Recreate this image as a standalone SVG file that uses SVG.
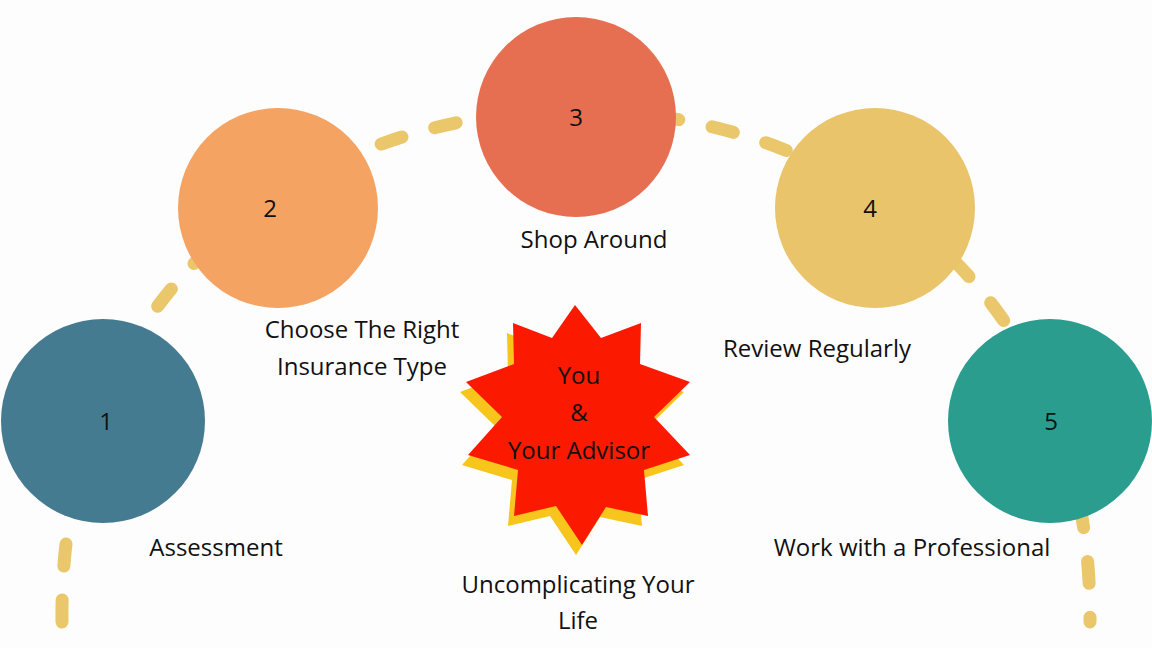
<svg xmlns="http://www.w3.org/2000/svg" width="1152" height="648" viewBox="0 0 1152 648">
<style>
text{font-family:"Open Sans","Liberation Sans",sans-serif;font-size:24px;fill:#111;text-anchor:middle}
.n{font-size:24px}
</style>
<rect width="1152" height="648" fill="#fdfdfd"/>
<g id="connectors">
<path d="M62,622 C55,-60 1095,-60 1090,622" fill="none" stroke="#e9c76a" stroke-width="13" stroke-linecap="round" stroke-dasharray="22 34"/>
</g>
<g id="n1"><circle cx="103" cy="421" r="102" fill="#457b91"/><text x="106" y="430">1</text><text x="216" y="556">Assessment</text></g>
<g id="n2"><circle cx="278" cy="208" r="100" fill="#f4a362"/><text x="270" y="217">2</text><text x="362" y="338">Choose The Right</text><text x="362" y="375">Insurance Type</text></g>
<g id="n3"><circle cx="576" cy="117" r="100" fill="#e76f51"/><text x="576" y="126">3</text><text x="594" y="248">Shop Around</text></g>
<g id="n4"><circle cx="875" cy="208" r="100" fill="#e9c46a"/><text x="870" y="217">4</text><text x="817" y="357">Review Regularly</text></g>
<g id="n5"><circle cx="1050" cy="421" r="102" fill="#2a9d8f"/><text x="1051" y="430">5</text><text x="912" y="556">Work with a Professional</text></g>
<g id="center">
<polygon transform="translate(-6,10)" fill="#f8c51c" points="575,305 601,338 641,323 640,364 690,382 654,417 690,455 644,470 648,516 606,507 582,545 556,506 514,516 518,470 468,455 502,417 466,382 514,364 513,323 552,338"/>
<polygon fill="#fb1a00" points="575,305 601,338 641,323 640,364 690,382 654,417 690,455 644,470 648,516 606,507 582,545 556,506 514,516 518,470 468,455 502,417 466,382 514,364 513,323 552,338"/>
<text x="579" y="384">You</text><text x="579" y="421">&amp;</text><text x="579" y="459">Your Advisor</text>
<text x="578" y="593">Uncomplicating Your</text><text x="578" y="629">Life</text>
</g>
</svg>
